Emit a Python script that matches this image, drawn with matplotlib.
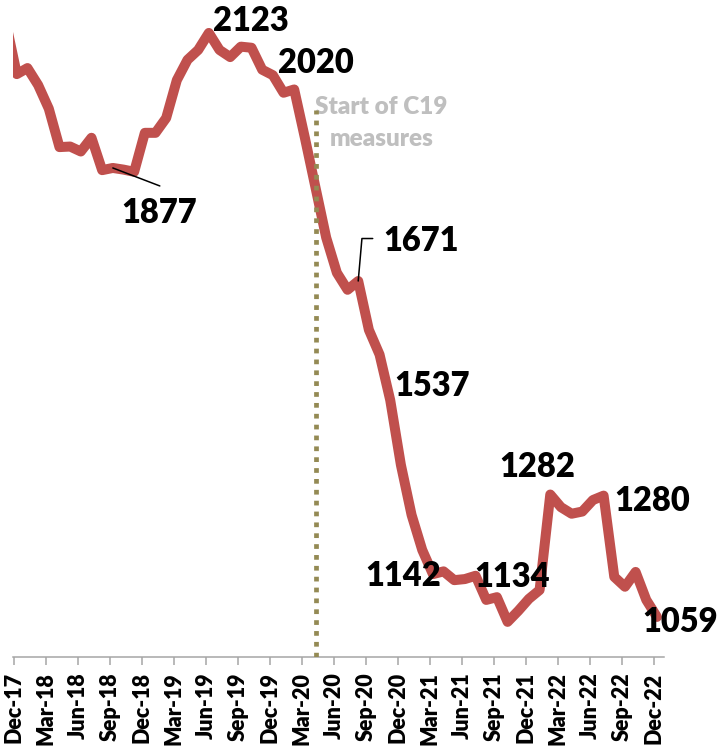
import matplotlib.pyplot as plt
import numpy as np
import pandas as pd

plt.rcParams['font.family'] = ['Lato', 'DejaVu Sans']

# monthly series, Nov-17 .. Dec-22 (Nov-17 only shows as the clipped stub on the left)
months = list(pd.date_range('2017-11-01', '2022-12-01', freq='MS').strftime('%b-%y'))
values = [2140,
          2048, 2059, 2028, 1985, 1915, 1916, 1907, 1932, 1873, 1877, 1874, 1870,
          1941, 1941, 1968, 2037, 2074, 2092, 2123, 2092, 2079, 2098, 2096, 2056,
          2046, 2014, 2020, 1932, 1841, 1750, 1686, 1655, 1671, 1582, 1537, 1454,
          1336, 1245, 1181, 1137, 1142, 1126, 1128, 1134, 1090, 1095, 1050, 1070,
          1092, 1108, 1282, 1259, 1247, 1251, 1272, 1280, 1132, 1114, 1141, 1090,
          1059]
tick_labels = ['Dec-17', 'Mar-18', 'Jun-18', 'Sep-18', 'Dec-18', 'Mar-19', 'Jun-19',
               'Sep-19', 'Dec-19', 'Mar-20', 'Jun-20', 'Sep-20', 'Dec-20', 'Mar-21',
               'Jun-21', 'Sep-21', 'Dec-21', 'Mar-22', 'Jun-22', 'Sep-22', 'Dec-22']
labelled = ['Sep-18', 'Jun-19', 'Feb-20', 'Aug-20', 'Oct-20', 'Apr-21', 'Jul-21',
            'Feb-22', 'Jul-22', 'Dec-22']
c19_month = 'Apr-20'
c19_text = 'Start of C19\nmeasures'

# label offsets from the point, in pixels
label_offsets = {
    'Sep-18': (46, -45), 'Jun-19': (42, 12), 'Feb-20': (22, 26), 'Aug-20': (63, 40),
    'Oct-20': (53, -31), 'Apr-21': (-40, -5), 'Jul-21': (37, -1), 'Feb-22': (-13, 28),
    'Jul-22': (49, -5), 'Dec-22': (23, -5),
}

red = '#C0504D'
axis_grey = '#A6A6A6'
heavy = 'heavy'

x = np.arange(len(values)) - 1          # Dec-17 -> 0
pos = dict(zip(months, x))
val = dict(zip(months, values))

fig = plt.figure(figsize=(7.19, 7.5), dpi=100)
ax = fig.add_axes([12.7 / 719, 1 - 657 / 750, (664 - 12.7) / 719, 657 / 750])

ax.plot(x, values, color=red, lw=7.2, solid_joinstyle='round',
        solid_capstyle='round', zorder=3)
ax.set_xlim(-0.384, 60.66)
ax.set_ylim(986, 2183)

# covid marker
ax.plot([pos[c19_month]] * 2, [986, 1983], color='#948A54', lw=3.4,
        linestyle=(0, (1.0, 1.3)), dash_capstyle='butt', zorder=4)
ax.annotate(c19_text, xy=(pos[c19_month], 1983), xytext=(66, -13),
            textcoords='offset pixels', ha='center', va='center',
            fontsize=17.5, fontweight=heavy, color='#BFBFBF', linespacing=1.55)

for m in labelled:
    dx, dy = label_offsets[m]
    ax.annotate(f'{val[m]}', xy=(pos[m], val[m]), xytext=(dx, dy),
                textcoords='offset pixels', ha='center', va='center',
                fontsize=23.5, fontweight=heavy, color='black', zorder=5)

# leader lines
ax.annotate('', xy=(pos['Sep-18'], val['Sep-18']), xytext=(47, -18),
            textcoords='offset pixels',
            arrowprops=dict(arrowstyle='-', color='black', lw=1.1, shrinkA=0, shrinkB=0))
ax.annotate('', xy=(pos['Aug-20'], val['Aug-20']), xytext=(14.5, 42.5),
            textcoords='offset pixels',
            arrowprops=dict(arrowstyle='-', color='black', lw=1.1, shrinkA=0, shrinkB=0,
                            connectionstyle='angle,angleA=0,angleB=85,rad=0'))

ax.set_xticks(np.arange(len(tick_labels)) * 3 - 0.28)
ax.set_xticklabels(tick_labels, rotation=90, fontsize=15.5, fontweight=heavy)
ax.tick_params(axis='x', direction='out', length=6, width=1.1, color=axis_grey, pad=5)
ax.set_yticks([])
for s in ['left', 'top', 'right']:
    ax.spines[s].set_visible(False)
ax.spines['bottom'].set_color(axis_grey)
ax.spines['bottom'].set_linewidth(1.1)
ax.patch.set_alpha(0)

fig.savefig('out.png', dpi=100)
